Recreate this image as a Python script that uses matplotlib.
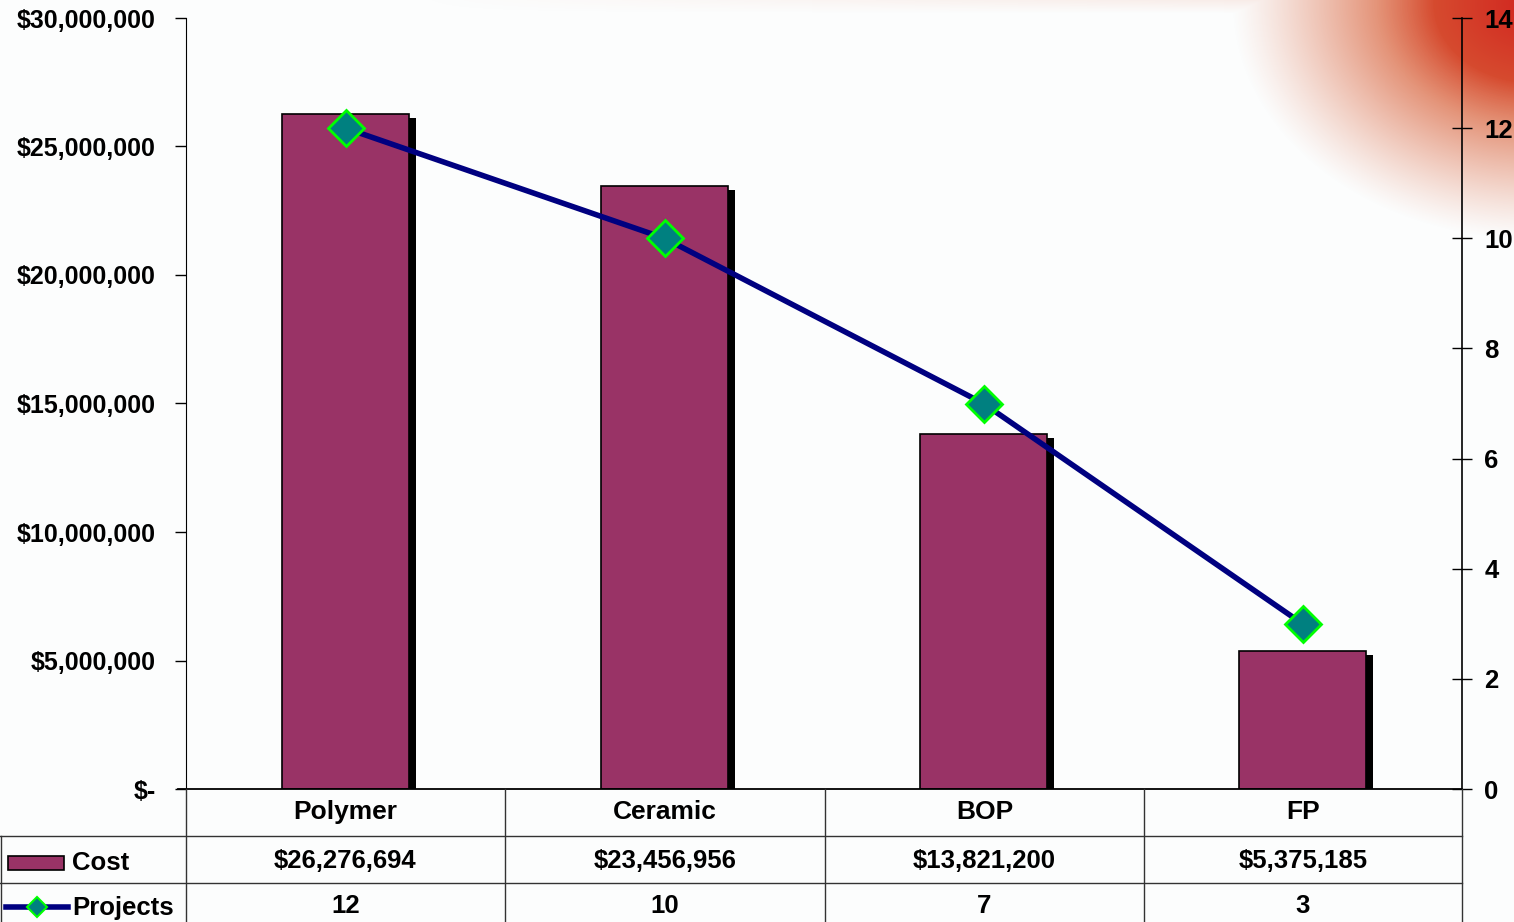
import numpy as np
import matplotlib
matplotlib.use('Agg')
from matplotlib import pyplot as plt
from matplotlib.lines import Line2D
from matplotlib.patches import Rectangle

plt.rcParams['font.family'] = ['Liberation Sans', 'DejaVu Sans']
plt.rcParams['font.weight'] = 'bold'

# data
categories = ['Polymer', 'Ceramic', 'BOP', 'FP']
cost = [26276694, 23456956, 13821200, 5375185]
projects = [12, 10, 7, 3]
cost_ticks = [0, 5000000, 10000000, 15000000, 20000000, 25000000, 30000000]
cost_tick_labels = ['$-', '$5,000,000', '$10,000,000', '$15,000,000',
                    '$20,000,000', '$25,000,000', '$30,000,000']
proj_ticks = [0, 2, 4, 6, 8, 10, 12, 14]

W, H = 1514, 922
bar_color = '#993366'
line_color = '#000080'
marker_face = '#008080'
marker_edge = '#00FF00'
bg = '#FCFDFD'

fig = plt.figure(figsize=(W / 100, H / 100), dpi=100, facecolor=bg)


def fx(px):
    return px / W


def fy(py):
    return 1 - py / H


# red blob in the top right corner (background decoration)
bgax = fig.add_axes([0, 0, 1, 1], zorder=-5)
bgax.set_axis_off()
yy, xx = np.mgrid[0:H, 0:W]
d = np.sqrt(((xx - 1535) / 290.0) ** 2 + ((yy - 5) / 225.0) ** 2)
alpha = np.clip((1.05 - d) / 0.7, 0, 1) ** 1.2
deep = np.clip((0.55 - d) / 0.55, 0, 1)
# faint band along the top edge
band = np.clip((14 - yy) / 14.0, 0, 1) * 0.12 * np.clip((xx - 400) / 900.0, 0, 1)
img = np.zeros((H, W, 4))
img[..., 0] = 0.85 - 0.03 * deep
img[..., 1] = 0.38 - 0.24 * deep
img[..., 2] = 0.22 - 0.10 * deep
img[..., 3] = np.clip(np.maximum(alpha, band), 0, 1)
bgax.imshow(img, extent=[0, 1, 0, 1], aspect='auto', origin='upper')
bgax.set_xlim(0, 1)
bgax.set_ylim(0, 1)

x_left, x_right, y_top, y_bot = 186, 1462, 18, 789
ax = fig.add_axes([fx(x_left), fy(y_bot), fx(x_right - x_left), (y_bot - y_top) / H])
ax.patch.set_alpha(0)

x = np.arange(len(categories))
bw = 0.4
# shadows
for xi, v in zip(x, cost):
    ax.add_patch(Rectangle((xi - bw / 2 + 0.02, 0), bw, v - 150000,
                           facecolor='black', edgecolor='none', zorder=1))
ax.bar(x, cost, width=bw, color=bar_color, edgecolor='black', linewidth=1.2, zorder=2)
ax.set_xlim(-0.5, len(categories) - 0.5)
ax.set_ylim(0, 30000000)
ax.set_yticks(cost_ticks)
ax.set_yticklabels(cost_tick_labels, fontsize=18, fontweight='bold')
ax.set_xticks([])
ax.tick_params(axis='y', direction='out', length=8, width=1, pad=14)
ax.spines['top'].set_visible(False)
ax.spines['right'].set_visible(False)
ax.spines['bottom'].set_visible(False)

ax2 = ax.twinx()
ax2.plot(x, projects, color=line_color, lw=4, marker='D', markersize=18,
         markerfacecolor=marker_face, markeredgecolor=marker_edge, markeredgewidth=2, zorder=5)
ax2.set_ylim(0, 14)
ax2.set_yticks(proj_ticks)
ax2.set_yticklabels([str(t) for t in proj_ticks], fontsize=18.5, fontweight='bold')
ax2.tick_params(axis='y', direction='inout', length=14, width=1, pad=9)
for s in ['top', 'left', 'bottom']:
    ax2.spines[s].set_visible(False)
ax2.spines['right'].set_linewidth(1.2)
ax2.set_xlim(-0.5, len(categories) - 0.5)

# baseline of the axis
fig.add_artist(Line2D([fx(178), fx(x_right)], [fy(789), fy(789)], color='black', lw=1.3))

# data table below the chart
cols = [186, 505, 825, 1144, 1462]
grid_c = '#333333'
for yl in [836, 883]:
    fig.add_artist(Line2D([fx(0), fx(x_right)], [fy(yl), fy(yl)], color=grid_c, lw=1))
for xc in cols:
    fig.add_artist(Line2D([fx(xc), fx(xc)], [fy(789), 0], color=grid_c, lw=1))
fig.add_artist(Line2D([fx(1), fx(1)], [fy(836), 0], color=grid_c, lw=1))

for i, c in enumerate(categories):
    cx = (cols[i] + cols[i + 1]) / 2
    fig.text(fx(cx), fy(812), c, ha='center', va='center', fontsize=19, fontweight='bold')
    fig.text(fx(cx), fy(861), '${:,}'.format(cost[i]), ha='center', va='center',
             fontsize=18.5, fontweight='bold')
    fig.text(fx(cx), fy(906), str(projects[i]), ha='center', va='center',
             fontsize=18.5, fontweight='bold')

# legend keys in the table
fig.add_artist(Rectangle((fx(8), fy(870)), fx(56), 14 / H, facecolor=bar_color,
                         edgecolor='black', lw=1.2))
fig.text(fx(72), fy(863), 'Cost', ha='left', va='center', fontsize=18.5, fontweight='bold')
fig.add_artist(Line2D([fx(6), fx(68)], [fy(907), fy(907)], color=line_color, lw=4))
fig.add_artist(Line2D([fx(37)], [fy(907)], marker='D', markersize=10, color=line_color,
                      markerfacecolor=marker_face, markeredgecolor=marker_edge, markeredgewidth=1.5))
fig.text(fx(72), fy(908), 'Projects', ha='left', va='center', fontsize=18.5, fontweight='bold')

fig.savefig('out.png', dpi=100, facecolor=bg)
